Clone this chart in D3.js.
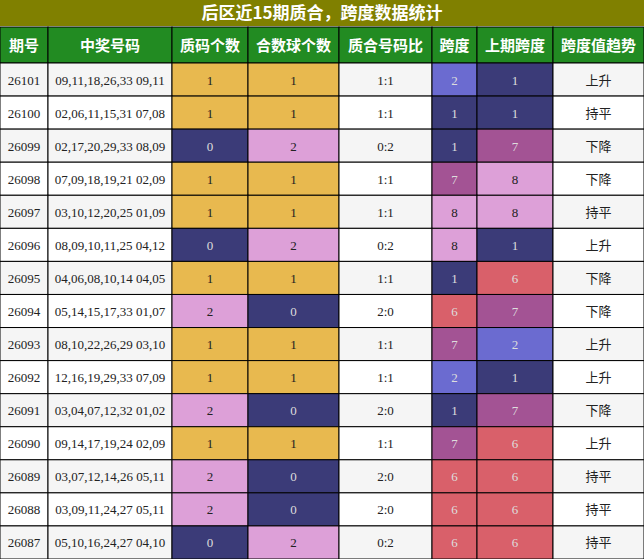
<!DOCTYPE html><html><head><meta charset="utf-8"><script src="https://cdn.jsdelivr.net/npm/d3@7"></script>
<style>body{margin:0;background:#fff}</style></head><body><svg id="c" width="644" height="559"></svg>
<script>
const title = "后区近15期质合，跨度数据统计";
const headers = ["期号","中奖号码","质码个数","合数球个数","质合号码比","跨度","上期跨度","跨度值趋势"];
const periods = ["26101","26100","26099","26098","26097","26096","26095","26094","26093","26092","26091","26090","26089","26088","26087"];
const numbers = ["09,11,18,26,33 09,11","02,06,11,15,31 07,08","02,17,20,29,33 08,09","07,09,18,19,21 02,09","03,10,12,20,25 01,09","08,09,10,11,25 04,12","04,06,08,10,14 04,05","05,14,15,17,33 01,07","08,10,22,26,29 03,10","12,16,19,29,33 07,09","03,04,07,12,32 01,02","09,14,17,19,24 02,09","03,07,12,14,26 05,11","03,09,11,24,27 05,11","05,10,16,24,27 04,10"];
const primes = [1,1,0,1,1,0,1,2,1,1,2,1,2,2,0];
const composites = [1,1,2,1,1,2,1,0,1,1,0,1,0,0,2];
const spans = [2,1,1,7,8,8,1,6,7,2,1,7,6,6,6];
const prevSpans = [1,1,7,8,8,1,6,7,2,1,7,6,6,6,6];
const trends = ["上升","持平","下降","下降","持平","上升","下降","下降","上升","上升","下降","上升","持平","持平","持平"];

const colEdges=[0,48,172,248,339,432,477,553,644];
const svg=d3.select("#c");
const y=d3.scaleBand().domain(d3.range(15)).range([63,559]).padding(0);
const countColor=d3.scaleOrdinal().domain([0,1,2]).range(["#3b3b78","#e8b94f","#dda0d8"]);
const spanColor=d3.scaleOrdinal().domain([1,2,6,7,8]).range(["#3b3b78","#6b6bd0","#d9606a","#a35394","#dda0d8"]);
const darkText=c=>["#3b3b78","#6b6bd0","#d9606a","#a35394"].includes(c);
const serif="'Liberation Serif','DejaVu Serif',serif";
const cjk="'Noto Sans CJK SC',sans-serif";

svg.append("rect").attr("x",0).attr("y",0).attr("width",644).attr("height",26).attr("fill","#808000");
svg.append("text").attr("x",322).attr("y",19).attr("text-anchor","middle").attr("fill","#fff").attr("font-size",17).attr("font-weight","bold").attr("font-family",cjk).text(title);
headers.forEach((h,i)=>{
 svg.append("rect").attr("x",colEdges[i]).attr("y",27).attr("width",colEdges[i+1]-colEdges[i]).attr("height",36).attr("fill","#228b22").attr("stroke","#000").attr("stroke-width",1);
 svg.append("text").attr("x",(colEdges[i]+colEdges[i+1])/2).attr("y",51).attr("text-anchor","middle").attr("fill","#fff").attr("font-size",15).attr("font-weight","bold").attr("font-family",cjk).text(h);
});
periods.forEach((p,r)=>{
 const bg=r%2===0?"#f5f5f5":"#ffffff";
 const cells=[[p,bg,serif],[numbers[r],bg,serif],[primes[r],countColor(primes[r]),serif],[composites[r],countColor(composites[r]),serif],[primes[r]+":"+composites[r],bg,serif],[spans[r],spanColor(spans[r]),serif],[prevSpans[r],spanColor(prevSpans[r]),serif],[trends[r],bg,cjk]];
 cells.forEach((c,i)=>{
  const x0=colEdges[i],x1=colEdges[i+1],y0=y(r);
  svg.append("rect").attr("x",x0).attr("y",y0).attr("width",x1-x0).attr("height",y.bandwidth()).attr("fill",c[1]).attr("stroke","#000").attr("stroke-width",1);
  svg.append("text").attr("x",(x0+x1)/2).attr("y",y0+y.bandwidth()/2+5).attr("text-anchor","middle").attr("font-size",13).attr("font-family",c[2]).attr("fill",darkText(c[1])?"#dddddd":"#222").text(c[0]);
 });
});
</script></body></html>
